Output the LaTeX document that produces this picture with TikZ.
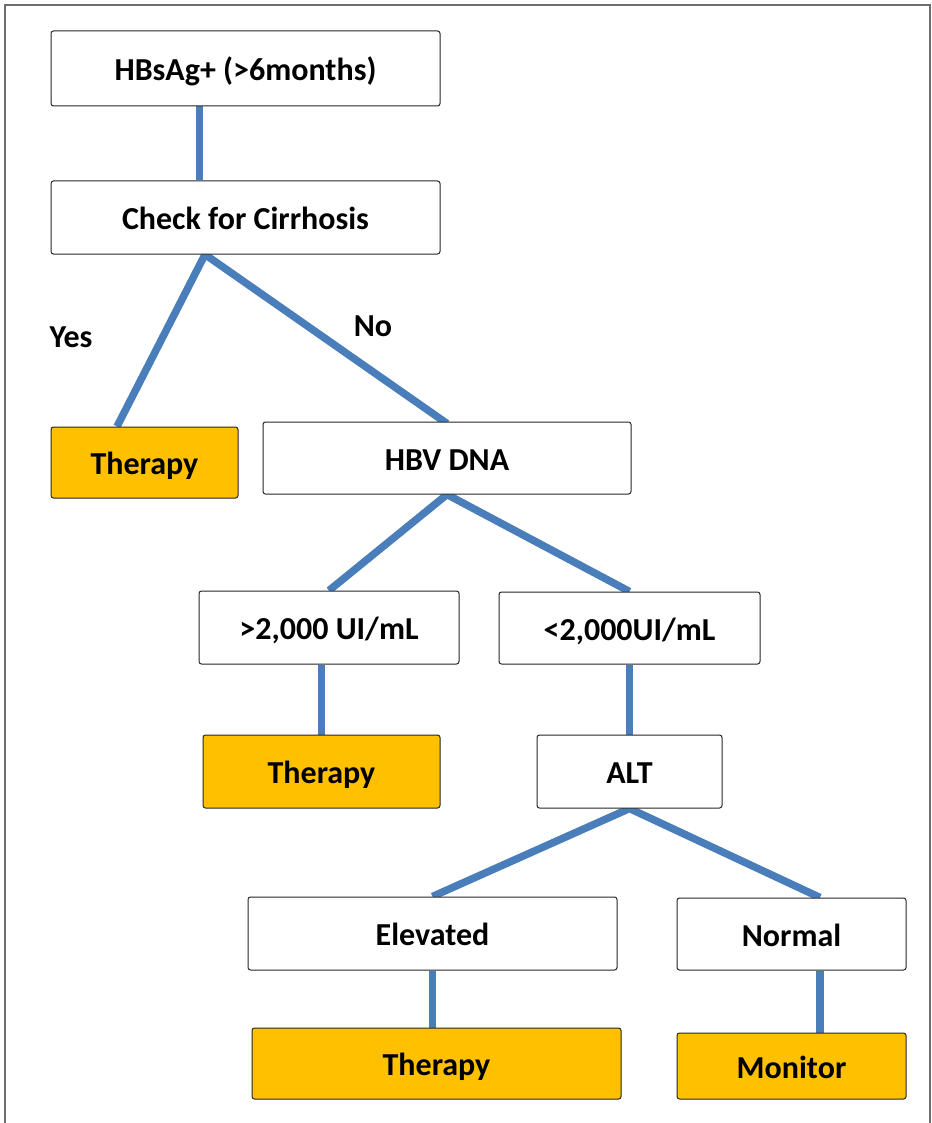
\documentclass[tikz,border=0pt]{standalone}
\usepackage{fontspec}
\setmainfont{Carlito}
\usetikzlibrary{backgrounds}
\definecolor{linkblue}{HTML}{4A7EBB}
\definecolor{gold}{HTML}{FFC000}
\definecolor{frame}{HTML}{6E6E6E}
\begin{document}
\begin{tikzpicture}[x=1pt,y=-1pt,
  box/.style={draw=black!85, line width=1pt, rounded corners=2.5pt, fill=white,
    inner sep=0pt, font=\fontsize{32}{36}\selectfont\bfseries, text=black,
    text height=26pt, text depth=2pt},
  action/.style={box, fill=gold},
  lbl/.style={inner sep=0pt, font=\fontsize{32}{36}\selectfont\bfseries},
  link/.style={draw=linkblue, line width=7.5pt, line cap=butt}]
\useasboundingbox (0,0) rectangle (931,1123);
% outer frame (open at the bottom)
\draw[frame, line width=1.6pt] (5,1123) -- (5,5) -- (930,5) -- (930,1123);

% decision boxes
\node[box, minimum width=389pt, minimum height=75pt] (hb)   at (245.5,68.5) {HBsAg+ (>6months)};
\node[box, minimum width=389pt, minimum height=73pt] (cir)  at (245.5,217.5) {Check for Cirrhosis};
\node[action, minimum width=187pt, minimum height=71pt] (th1) at (144.5,462.5) {Therapy};
\node[box, minimum width=368pt, minimum height=72pt] (hbv)  at (447,458) {HBV DNA};
\node[box, minimum width=260pt, minimum height=73pt] (gt)   at (329,627.5) {>2,000 UI/mL};
\node[box, minimum width=261pt, minimum height=72pt] (lt)   at (629.5,628) {<2,000UI/mL};
\node[action, minimum width=237pt, minimum height=73pt] (th2) at (321.5,771.5) {Therapy};
\node[box, minimum width=185pt, minimum height=73pt] (alt)  at (629.5,771.5) {ALT};
\node[box, minimum width=369pt, minimum height=73pt] (elev) at (432.5,933.5) {Elevated};
\node[box, minimum width=229pt, minimum height=72pt] (norm) at (791.5,934) {Normal};
\node[action, minimum width=369pt, minimum height=71pt] (th3) at (436.5,1063.5) {Therapy};
\node[action, minimum width=229pt, minimum height=66pt] (mon) at (791.5,1066) {Monitor};

% branch labels
\node[lbl] (yes) at (71,337) {Yes};
\node[lbl] (no)  at (373,326) {No};

% connectors
\begin{pgfonlayer}{background}
\draw[link] ([xshift=-46pt]hb.south) -- ([xshift=-46pt]hb.south |- cir.north);
\draw[link] ([xshift=-40.5pt]cir.south) -- ([xshift=-27.5pt]th1.north);
\draw[link] ([xshift=-40.5pt]cir.south) -- ([yshift=-2pt]hbv.north);
\draw[link] (hbv.south) -- (gt.north);
\draw[link] (hbv.south) -- (lt.north);
\draw[link] (th2.north |- gt.south) -- (th2.north);
\draw[link] (lt.south) -- (alt.north);
\draw[link] (alt.south) -- (elev.north);
\draw[link] (alt.south) -- ([xshift=28.5pt]norm.north);
\draw[link] (elev.south) -- (elev.south |- th3.north);
\draw[link] ([xshift=28.5pt]norm.south) -- ([xshift=28.5pt]norm.south |- mon.north);
\end{pgfonlayer}
\end{tikzpicture}
\end{document}
